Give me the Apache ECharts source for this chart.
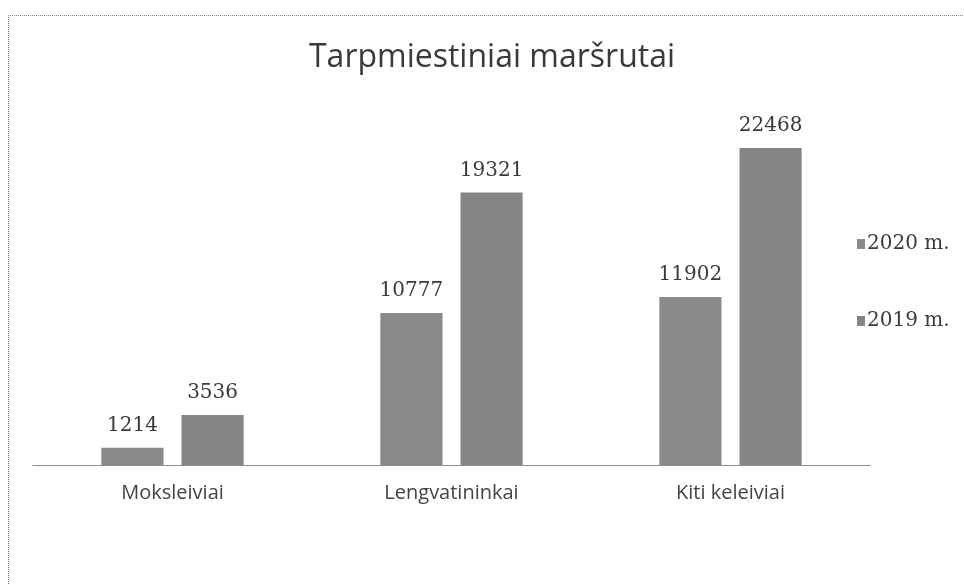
<!DOCTYPE html>
<html>
<head>
<meta charset="utf-8">
<script src="https://cdn.jsdelivr.net/npm/echarts@6/dist/echarts.min.js"></script>
<style>
html,body{margin:0;padding:0;background:#fff;}
#chart{width:964px;height:584px;position:absolute;left:0;top:0;}
#frame{position:absolute;left:8px;top:15px;width:960px;height:580px;border-left:1px dotted #777;border-top:1px dotted #888;pointer-events:none;}
</style>
</head>
<body>
<div id="chart"></div>
<div id="frame"></div>
<script>
const title = 'Tarpmiestiniai maršrutai';
const categories = ['Moksleiviai', 'Lengvatininkai', 'Kiti keleiviai'];
const seriesNames = ['2020 m.', '2019 m.'];
const values2020 = [1214, 10777, 11902];
const values2019 = [3536, 19321, 22468];

const chart = echarts.init(document.getElementById('chart'));
const serif = '"DejaVu Serif", "Liberation Serif", serif';
const sans = '"Open Sans", Lato, "Noto Sans", sans-serif';
const label = {
  show: true, position: 'top', distance: 12,
  fontFamily: serif, fontSize: 20, color: '#3a3a3a'
};
chart.setOption({
  animation: false,
  backgroundColor: '#fff',
  title: {
    text: title, left: 487, top: 37, textAlign: 'center',
    textStyle: { fontFamily: sans, fontSize: 32, fontWeight: 'normal', color: '#3a3a3a' }
  },
  legend: {
    data: seriesNames, orient: 'vertical', left: 852, top: 229,
    itemWidth: 8, itemHeight: 10, itemGap: 57,
    icon: 'rect',
    textStyle: { fontFamily: serif, fontSize: 20, color: '#3a3a3a', padding: [0, 0, 0, -3] }
  },
  grid: { left: 33, right: 94, top: 112.3, bottom: 119, containLabel: false },
  xAxis: {
    type: 'category', data: categories,
    axisLine: { show: true, lineStyle: { color: '#777', type: 'dotted', width: 1 } },
    axisTick: { show: false },
    axisLabel: { fontFamily: sans, fontSize: 20, color: '#444', margin: 18 }
  },
  yAxis: {
    type: 'value', min: 0, max: 25000, show: false,
    splitLine: { show: false }
  },
  series: [
    { name: seriesNames[0], type: 'bar', data: values2020, barGap: '29%', barCategoryGap: '49%',
      itemStyle: { color: '#8a8a8a' }, label: label },
    { name: seriesNames[1], type: 'bar', data: values2019,
      itemStyle: { color: '#858585' }, label: label }
  ]
});
</script>
</body>
</html>
